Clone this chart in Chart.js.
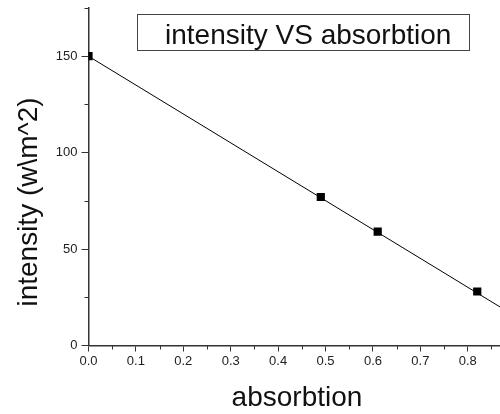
<!DOCTYPE html>
<html>
<head>
<meta charset="utf-8">
<script src="https://cdn.jsdelivr.net/npm/chart.js@4/dist/chart.umd.min.js"></script>
<style>
  html, body { margin: 0; padding: 0; background: #fff; }
  #wrap { width: 500px; height: 414px; }
</style>
</head>
<body>
<div id="wrap"><canvas id="grafico" width="500" height="414"></canvas></div>
<script>
// data
const absorbtion = [0, 0.49, 0.61, 0.82];
const intensity = [150, 77, 59, 28];

// linear fit line (end points)
const fitX = [0, 0.868];
const fitY = [150, 20];

const xMinor = [0.05, 0.15, 0.25, 0.35, 0.45, 0.55, 0.65, 0.75, 0.85];
const yMinor = [25, 75, 125, 175];

const legendText = "intensity VS absorbtion";
const xTitle = "absorbtion";
const yTitle = "intensity (w\\m^2)";

const FONT = "'Liberation Sans', Arial, sans-serif";
const AXIS = "#333";

// minor ticks, axis titles and legend box
const extras = {
  id: "extras",
  afterDraw(chart) {
    const ctx = chart.ctx;
    const x = chart.scales.x;
    const y = chart.scales.y;
    const area = chart.chartArea;

    ctx.save();
    ctx.strokeStyle = AXIS;
    ctx.lineWidth = 1;
    xMinor.forEach(v => {
      const px = Math.round(x.getPixelForValue(v)) + 0.5;
      ctx.beginPath();
      ctx.moveTo(px, area.bottom);
      ctx.lineTo(px, area.bottom + 4);
      ctx.stroke();
    });
    yMinor.forEach(v => {
      const py = Math.round(y.getPixelForValue(v)) + 0.5;
      ctx.beginPath();
      ctx.moveTo(area.left, py);
      ctx.lineTo(area.left - 4, py);
      ctx.stroke();
    });

    ctx.fillStyle = "#111";
    ctx.font = "28px " + FONT;
    ctx.textAlign = "center";
    ctx.textBaseline = "alphabetic";
    ctx.fillText(xTitle, 297, 406);

    ctx.save();
    ctx.translate(37, 202);
    ctx.rotate(-Math.PI / 2);
    ctx.fillText(yTitle, 0, 0);
    ctx.restore();

    // legend box
    ctx.strokeStyle = "#444";
    ctx.lineWidth = 1;
    ctx.fillStyle = "#fff";
    ctx.fillRect(137.5, 14.5, 332, 36);
    ctx.strokeRect(137.5, 14.5, 332, 36);
    ctx.fillStyle = "#111";
    ctx.textAlign = "left";
    ctx.fillText(legendText, 165, 44);
    ctx.restore();
  }
};

const noPad = s => {
  s.paddingLeft = 0;
  s.paddingRight = 0;
  s.paddingTop = 0;
  s.paddingBottom = 0;
};

new Chart(document.getElementById("grafico"), {
  type: "scatter",
  data: {
    datasets: [
      {
        label: "fit",
        data: fitX.map((v, i) => ({ x: v, y: fitY[i] })),
        showLine: true,
        borderColor: "#000",
        borderWidth: 1,
        pointRadius: 0,
        clip: 0,
        order: 2
      },
      {
        label: legendText,
        data: absorbtion.map((v, i) => ({ x: v, y: intensity[i] })),
        pointStyle: "rect",
        pointRadius: 5.8,
        backgroundColor: "#000",
        borderColor: "#000",
        borderWidth: 0,
        order: 1
      }
    ]
  },
  options: {
    responsive: false,
    animation: false,
    layout: { autoPadding: false, padding: { top: 8, right: 0, left: 0, bottom: 0 } },
    plugins: {
      legend: { display: false },
      tooltip: { enabled: false }
    },
    scales: {
      x: {
        type: "linear",
        min: 0,
        max: 0.868,
        border: { color: AXIS, width: 1.5 },
        grid: { drawOnChartArea: false, tickLength: 6, color: AXIS, lineWidth: 1 },
        ticks: {
          stepSize: 0.1,
          includeBounds: false,
          maxRotation: 0,
          padding: 2,
          color: "#222",
          font: { family: FONT, size: 13 },
          callback: v => v.toFixed(1)
        },
        afterFit: s => { s.height = 68.5; noPad(s); }
      },
      y: {
        min: 0,
        max: 175,
        border: { color: AXIS, width: 1.5 },
        grid: { drawOnChartArea: false, tickLength: 7, color: AXIS, lineWidth: 1 },
        ticks: {
          stepSize: 50,
          includeBounds: false,
          padding: 4,
          color: "#222",
          font: { family: FONT, size: 13 }
        },
        afterFit: s => { s.width = 88.5; noPad(s); }
      }
    }
  },
  plugins: [extras]
});
</script>
</body>
</html>
